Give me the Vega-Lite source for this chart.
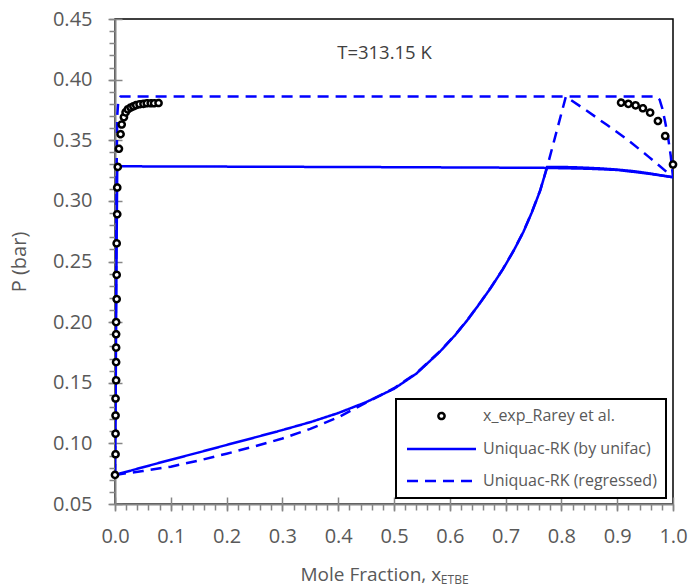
{
  "$schema": "https://vega.github.io/schema/vega-lite/v6.json",
  "width": 558,
  "height": 485,
  "autosize": {"type": "none"},
  "padding": {"left": 115, "top": 19, "right": 16, "bottom": 84},
  "background": "white",
  "config": {
    "view": {"stroke": "black", "strokeWidth": 1.5},
    "font": "Open Sans",
    "axis": {"grid": false, "domainColor": "#868686", "domainWidth": 2, "tickColor": "#868686", "tickWidth": 1.5, "labelColor": "#595959", "titleColor": "#595959", "labelFont": "Open Sans", "titleFont": "Open Sans", "titleFontWeight": "normal", "labelFlush": false, "labelOverlap": false}
  },
  "datasets": {
    "exp": [
      {"series": "x_exp_Rarey et al.", "x": 0.000, "P": 0.074},
      {"series": "x_exp_Rarey et al.", "x": 0.001, "P": 0.091},
      {"series": "x_exp_Rarey et al.", "x": 0.001, "P": 0.108},
      {"series": "x_exp_Rarey et al.", "x": 0.001, "P": 0.123},
      {"series": "x_exp_Rarey et al.", "x": 0.001, "P": 0.137},
      {"series": "x_exp_Rarey et al.", "x": 0.002, "P": 0.152},
      {"series": "x_exp_Rarey et al.", "x": 0.002, "P": 0.167},
      {"series": "x_exp_Rarey et al.", "x": 0.002, "P": 0.179},
      {"series": "x_exp_Rarey et al.", "x": 0.002, "P": 0.190},
      {"series": "x_exp_Rarey et al.", "x": 0.002, "P": 0.200},
      {"series": "x_exp_Rarey et al.", "x": 0.003, "P": 0.219},
      {"series": "x_exp_Rarey et al.", "x": 0.003, "P": 0.239},
      {"series": "x_exp_Rarey et al.", "x": 0.003, "P": 0.265},
      {"series": "x_exp_Rarey et al.", "x": 0.004, "P": 0.289},
      {"series": "x_exp_Rarey et al.", "x": 0.004, "P": 0.311},
      {"series": "x_exp_Rarey et al.", "x": 0.005, "P": 0.328},
      {"series": "x_exp_Rarey et al.", "x": 0.007, "P": 0.343},
      {"series": "x_exp_Rarey et al.", "x": 0.010, "P": 0.355},
      {"series": "x_exp_Rarey et al.", "x": 0.012, "P": 0.363},
      {"series": "x_exp_Rarey et al.", "x": 0.016, "P": 0.369},
      {"series": "x_exp_Rarey et al.", "x": 0.019, "P": 0.373},
      {"series": "x_exp_Rarey et al.", "x": 0.023, "P": 0.3755},
      {"series": "x_exp_Rarey et al.", "x": 0.028, "P": 0.377},
      {"series": "x_exp_Rarey et al.", "x": 0.033, "P": 0.378},
      {"series": "x_exp_Rarey et al.", "x": 0.038, "P": 0.379},
      {"series": "x_exp_Rarey et al.", "x": 0.044, "P": 0.3797},
      {"series": "x_exp_Rarey et al.", "x": 0.051, "P": 0.380},
      {"series": "x_exp_Rarey et al.", "x": 0.057, "P": 0.3805},
      {"series": "x_exp_Rarey et al.", "x": 0.064, "P": 0.3805},
      {"series": "x_exp_Rarey et al.", "x": 0.070, "P": 0.3805},
      {"series": "x_exp_Rarey et al.", "x": 0.078, "P": 0.3807},
      {"series": "x_exp_Rarey et al.", "x": 0.907, "P": 0.381},
      {"series": "x_exp_Rarey et al.", "x": 0.920, "P": 0.380},
      {"series": "x_exp_Rarey et al.", "x": 0.933, "P": 0.3788},
      {"series": "x_exp_Rarey et al.", "x": 0.946, "P": 0.3764},
      {"series": "x_exp_Rarey et al.", "x": 0.959, "P": 0.3728},
      {"series": "x_exp_Rarey et al.", "x": 0.973, "P": 0.3659},
      {"series": "x_exp_Rarey et al.", "x": 0.986, "P": 0.3535},
      {"series": "x_exp_Rarey et al.", "x": 1.000, "P": 0.330}
    ],
    "solid": [
      {"series": "Uniquac-RK (by unifac)", "part": "A", "ord": 1, "x": 0, "P": 0.074},
      {"series": "Uniquac-RK (by unifac)", "part": "A", "ord": 2, "x": 0.05, "P": 0.0803},
      {"series": "Uniquac-RK (by unifac)", "part": "A", "ord": 3, "x": 0.1, "P": 0.0865},
      {"series": "Uniquac-RK (by unifac)", "part": "A", "ord": 4, "x": 0.15, "P": 0.0925},
      {"series": "Uniquac-RK (by unifac)", "part": "A", "ord": 5, "x": 0.2, "P": 0.0987},
      {"series": "Uniquac-RK (by unifac)", "part": "A", "ord": 6, "x": 0.25, "P": 0.1048},
      {"series": "Uniquac-RK (by unifac)", "part": "A", "ord": 7, "x": 0.3, "P": 0.111},
      {"series": "Uniquac-RK (by unifac)", "part": "A", "ord": 8, "x": 0.35, "P": 0.1175},
      {"series": "Uniquac-RK (by unifac)", "part": "A", "ord": 9, "x": 0.4, "P": 0.125},
      {"series": "Uniquac-RK (by unifac)", "part": "A", "ord": 10, "x": 0.45, "P": 0.134},
      {"series": "Uniquac-RK (by unifac)", "part": "A", "ord": 11, "x": 0.5, "P": 0.145},
      {"series": "Uniquac-RK (by unifac)", "part": "A", "ord": 12, "x": 0.54, "P": 0.1575},
      {"series": "Uniquac-RK (by unifac)", "part": "A", "ord": 13, "x": 0.582, "P": 0.1755},
      {"series": "Uniquac-RK (by unifac)", "part": "A", "ord": 14, "x": 0.61, "P": 0.1895},
      {"series": "Uniquac-RK (by unifac)", "part": "A", "ord": 15, "x": 0.633, "P": 0.2025},
      {"series": "Uniquac-RK (by unifac)", "part": "A", "ord": 16, "x": 0.655, "P": 0.2163},
      {"series": "Uniquac-RK (by unifac)", "part": "A", "ord": 17, "x": 0.673, "P": 0.228},
      {"series": "Uniquac-RK (by unifac)", "part": "A", "ord": 18, "x": 0.695, "P": 0.2435},
      {"series": "Uniquac-RK (by unifac)", "part": "A", "ord": 19, "x": 0.714, "P": 0.2585},
      {"series": "Uniquac-RK (by unifac)", "part": "A", "ord": 20, "x": 0.732, "P": 0.2745},
      {"series": "Uniquac-RK (by unifac)", "part": "A", "ord": 21, "x": 0.747, "P": 0.2905},
      {"series": "Uniquac-RK (by unifac)", "part": "A", "ord": 22, "x": 0.762, "P": 0.3085},
      {"series": "Uniquac-RK (by unifac)", "part": "A", "ord": 23, "x": 0.7745, "P": 0.328},
      {"series": "Uniquac-RK (by unifac)", "part": "A", "ord": 24, "x": 0.82, "P": 0.3278},
      {"series": "Uniquac-RK (by unifac)", "part": "A", "ord": 25, "x": 0.87, "P": 0.3268},
      {"series": "Uniquac-RK (by unifac)", "part": "A", "ord": 26, "x": 0.9, "P": 0.3258},
      {"series": "Uniquac-RK (by unifac)", "part": "A", "ord": 27, "x": 0.93, "P": 0.3245},
      {"series": "Uniquac-RK (by unifac)", "part": "A", "ord": 28, "x": 0.96, "P": 0.3225},
      {"series": "Uniquac-RK (by unifac)", "part": "A", "ord": 29, "x": 1.0, "P": 0.3195},
      {"series": "Uniquac-RK (by unifac)", "part": "B", "ord": 1, "x": 0, "P": 0.074},
      {"series": "Uniquac-RK (by unifac)", "part": "B", "ord": 2, "x": 0.001, "P": 0.12},
      {"series": "Uniquac-RK (by unifac)", "part": "B", "ord": 3, "x": 0.002, "P": 0.2},
      {"series": "Uniquac-RK (by unifac)", "part": "B", "ord": 4, "x": 0.003, "P": 0.27},
      {"series": "Uniquac-RK (by unifac)", "part": "B", "ord": 5, "x": 0.004, "P": 0.3285},
      {"series": "Uniquac-RK (by unifac)", "part": "B", "ord": 6, "x": 0.1, "P": 0.3284},
      {"series": "Uniquac-RK (by unifac)", "part": "B", "ord": 7, "x": 0.3, "P": 0.3281},
      {"series": "Uniquac-RK (by unifac)", "part": "B", "ord": 8, "x": 0.5, "P": 0.3278},
      {"series": "Uniquac-RK (by unifac)", "part": "B", "ord": 9, "x": 0.7, "P": 0.3274},
      {"series": "Uniquac-RK (by unifac)", "part": "B", "ord": 10, "x": 0.7745, "P": 0.3272},
      {"series": "Uniquac-RK (by unifac)", "part": "B", "ord": 11, "x": 0.85, "P": 0.3265},
      {"series": "Uniquac-RK (by unifac)", "part": "B", "ord": 12, "x": 0.9, "P": 0.3255},
      {"series": "Uniquac-RK (by unifac)", "part": "B", "ord": 13, "x": 0.95, "P": 0.3228},
      {"series": "Uniquac-RK (by unifac)", "part": "B", "ord": 14, "x": 1.0, "P": 0.3195}
    ],
    "dashed": [
      {"series": "Uniquac-RK (regressed)", "part": "A", "ord": 1, "x": 0, "P": 0.074},
      {"series": "Uniquac-RK (regressed)", "part": "A", "ord": 2, "x": 0.05, "P": 0.0772},
      {"series": "Uniquac-RK (regressed)", "part": "A", "ord": 3, "x": 0.1, "P": 0.0808},
      {"series": "Uniquac-RK (regressed)", "part": "A", "ord": 4, "x": 0.15, "P": 0.0858},
      {"series": "Uniquac-RK (regressed)", "part": "A", "ord": 5, "x": 0.2, "P": 0.0915},
      {"series": "Uniquac-RK (regressed)", "part": "A", "ord": 6, "x": 0.25, "P": 0.0975},
      {"series": "Uniquac-RK (regressed)", "part": "A", "ord": 7, "x": 0.3, "P": 0.104},
      {"series": "Uniquac-RK (regressed)", "part": "A", "ord": 8, "x": 0.35, "P": 0.112},
      {"series": "Uniquac-RK (regressed)", "part": "A", "ord": 9, "x": 0.4, "P": 0.1215},
      {"series": "Uniquac-RK (regressed)", "part": "A", "ord": 10, "x": 0.45, "P": 0.1335},
      {"series": "Uniquac-RK (regressed)", "part": "A", "ord": 11, "x": 0.5, "P": 0.1455},
      {"series": "Uniquac-RK (regressed)", "part": "A", "ord": 12, "x": 0.54, "P": 0.1578},
      {"series": "Uniquac-RK (regressed)", "part": "A", "ord": 13, "x": 0.582, "P": 0.1758},
      {"series": "Uniquac-RK (regressed)", "part": "A", "ord": 14, "x": 0.61, "P": 0.1897},
      {"series": "Uniquac-RK (regressed)", "part": "A", "ord": 15, "x": 0.633, "P": 0.2027},
      {"series": "Uniquac-RK (regressed)", "part": "A", "ord": 16, "x": 0.655, "P": 0.2165},
      {"series": "Uniquac-RK (regressed)", "part": "A", "ord": 17, "x": 0.673, "P": 0.2282},
      {"series": "Uniquac-RK (regressed)", "part": "A", "ord": 18, "x": 0.695, "P": 0.2437},
      {"series": "Uniquac-RK (regressed)", "part": "A", "ord": 19, "x": 0.714, "P": 0.2587},
      {"series": "Uniquac-RK (regressed)", "part": "A", "ord": 20, "x": 0.732, "P": 0.2747},
      {"series": "Uniquac-RK (regressed)", "part": "A", "ord": 21, "x": 0.747, "P": 0.2907},
      {"series": "Uniquac-RK (regressed)", "part": "A", "ord": 22, "x": 0.762, "P": 0.3087},
      {"series": "Uniquac-RK (regressed)", "part": "A", "ord": 23, "x": 0.7745, "P": 0.328},
      {"series": "Uniquac-RK (regressed)", "part": "A", "ord": 24, "x": 0.808, "P": 0.386},
      {"series": "Uniquac-RK (regressed)", "part": "A", "ord": 25, "x": 0.845, "P": 0.3745},
      {"series": "Uniquac-RK (regressed)", "part": "A", "ord": 26, "x": 0.882, "P": 0.3625},
      {"series": "Uniquac-RK (regressed)", "part": "A", "ord": 27, "x": 0.92, "P": 0.35},
      {"series": "Uniquac-RK (regressed)", "part": "A", "ord": 28, "x": 0.956, "P": 0.3365},
      {"series": "Uniquac-RK (regressed)", "part": "A", "ord": 29, "x": 1.0, "P": 0.3195},
      {"series": "Uniquac-RK (regressed)", "part": "B", "ord": 1, "x": 0, "P": 0.074},
      {"series": "Uniquac-RK (regressed)", "part": "B", "ord": 2, "x": 0.001, "P": 0.15},
      {"series": "Uniquac-RK (regressed)", "part": "B", "ord": 3, "x": 0.002, "P": 0.25},
      {"series": "Uniquac-RK (regressed)", "part": "B", "ord": 4, "x": 0.003, "P": 0.33},
      {"series": "Uniquac-RK (regressed)", "part": "B", "ord": 5, "x": 0.004, "P": 0.37},
      {"series": "Uniquac-RK (regressed)", "part": "B", "ord": 6, "x": 0.006, "P": 0.383},
      {"series": "Uniquac-RK (regressed)", "part": "B", "ord": 7, "x": 0.01, "P": 0.386},
      {"series": "Uniquac-RK (regressed)", "part": "B", "ord": 8, "x": 0.5, "P": 0.386},
      {"series": "Uniquac-RK (regressed)", "part": "B", "ord": 9, "x": 0.97, "P": 0.386},
      {"series": "Uniquac-RK (regressed)", "part": "B", "ord": 10, "x": 0.976, "P": 0.3835},
      {"series": "Uniquac-RK (regressed)", "part": "B", "ord": 11, "x": 0.981, "P": 0.376},
      {"series": "Uniquac-RK (regressed)", "part": "B", "ord": 12, "x": 0.986, "P": 0.365},
      {"series": "Uniquac-RK (regressed)", "part": "B", "ord": 13, "x": 0.991, "P": 0.353},
      {"series": "Uniquac-RK (regressed)", "part": "B", "ord": 14, "x": 0.996, "P": 0.337},
      {"series": "Uniquac-RK (regressed)", "part": "B", "ord": 15, "x": 1.0, "P": 0.3195}
    ]
  },
  "resolve": {"axis": {"x": "independent", "y": "independent"}},
  "layer": [
    {
      "data": {"name": "solid"},
      "mark": {"type": "line", "strokeWidth": 2.5, "clip": true},
      "encoding": {
        "x": {"field": "x", "type": "quantitative", "scale": {"domain": [0, 1], "nice": false, "zero": false},
          "axis": {"orient": "bottom", "values": [0,0.02,0.04,0.06,0.08,0.1,0.12,0.14,0.16,0.18,0.2,0.22,0.24,0.26,0.28,0.3,0.32,0.34,0.36,0.38,0.4,0.42,0.44,0.46,0.48,0.5,0.52,0.54,0.56,0.58,0.6,0.62,0.64,0.66,0.68,0.7,0.72,0.74,0.76,0.78,0.8,0.82,0.84,0.86,0.88,0.9,0.92,0.94,0.96,0.98,1], "labels": false, "title": null, "tickSize": 6, "domain": true}},
        "y": {"field": "P", "type": "quantitative", "scale": {"domain": [0.05, 0.45], "nice": false, "zero": false},
          "axis": {"orient": "left", "values": [0.05,0.06,0.07,0.08,0.09,0.1,0.11,0.12,0.13,0.14,0.15,0.16,0.17,0.18,0.19,0.2,0.21,0.22,0.23,0.24,0.25,0.26,0.27,0.28,0.29,0.3,0.31,0.32,0.33,0.34,0.35,0.36,0.37,0.38,0.39,0.4,0.41,0.42,0.43,0.44,0.45], "labels": false, "title": null, "tickSize": 6, "domain": true}},
        "detail": {"field": "part", "type": "nominal"},
        "order": {"field": "ord", "type": "quantitative"},
        "color": {"field": "series", "type": "nominal",
          "scale": {"domain": ["x_exp_Rarey et al.", "Uniquac-RK (by unifac)", "Uniquac-RK (regressed)"], "range": ["black", "#0000ff", "#0000ff"]},
          "legend": {"title": null, "orient": "none", "legendX": 281, "legendY": 380, "fillColor": "white", "strokeColor": "black", "padding": 9, "rowPadding": 16, "labelFontSize": 16, "labelFont": "Open Sans", "labelColor": "#595959", "labelOffset": 6, "labelLimit": 300, "symbolStrokeWidth": 2.5, "symbolSize": 100,
            "encode": {
              "legend": {"update": {"strokeWidth": {"value": 2}}},
              "symbols": {"update": {
                "shape": {"signal": "datum.value === 'x_exp_Rarey et al.' ? 'circle' : 'stroke'"},
                "size": {"signal": "datum.value === 'x_exp_Rarey et al.' ? 38 : 4761"},
                "x": {"value": 36.5},
                "y": {"value": 8},
                "fill": {"value": "transparent"}
              }},
              "labels": {"update": {"y": {"value": 8}}}
            }}},
        "strokeDash": {"field": "series", "type": "nominal",
          "scale": {"domain": ["x_exp_Rarey et al.", "Uniquac-RK (by unifac)", "Uniquac-RK (regressed)"], "range": [[1, 0], [1, 0], [11, 7]]}}
      }
    },
    {
      "data": {"name": "dashed"},
      "mark": {"type": "line", "strokeWidth": 2.5, "clip": true},
      "encoding": {
        "x": {"field": "x", "type": "quantitative",
          "axis": {"orient": "bottom", "values": [0,0.1,0.2,0.3,0.4,0.5,0.6,0.7,0.8,0.9,1], "labels": false, "title": null, "tickSize": -7, "domain": false}},
        "y": {"field": "P", "type": "quantitative",
          "axis": {"orient": "left", "values": [0.05,0.1,0.15,0.2,0.25,0.3,0.35,0.4,0.45], "labels": false, "title": null, "tickSize": -7, "domain": false}},
        "detail": {"field": "part", "type": "nominal"},
        "order": {"field": "ord", "type": "quantitative"},
        "color": {"field": "series", "type": "nominal"},
        "strokeDash": {"field": "series", "type": "nominal"}
      }
    },
    {
      "data": {"name": "exp"},
      "mark": {"type": "point", "shape": "circle", "size": 38, "filled": false, "fill": "white", "strokeWidth": 2.5, "opacity": 1},
      "encoding": {
        "x": {"field": "x", "type": "quantitative",
          "axis": {"orient": "bottom", "values": [0,0.1,0.2,0.3,0.4,0.5,0.6,0.7,0.8,0.9,1], "format": ".1f", "tickSize": 7, "labelPadding": 15, "labelFontSize": 20, "domain": false,
            "title": "Mole Fraction, x", "titleFontSize": 19, "titleAlign": "left", "titleAnchor": "start", "titleX": 185, "titleY": 76, "titleBaseline": "alphabetic"}},
        "y": {"field": "P", "type": "quantitative",
          "axis": {"orient": "left", "values": [0.05,0.1,0.15,0.2,0.25,0.3,0.35,0.4,0.45], "format": ".2f", "tickSize": 7, "labelPadding": 16, "labelFontSize": 20, "domain": false,
            "title": "P (bar)", "titleFontSize": 20, "titleAngle": 270, "titleX": -96, "titleY": 242.5, "titleAlign": "center", "titleBaseline": "middle"}},
        "color": {"field": "series", "type": "nominal"},
        "strokeDash": {"field": "series", "type": "nominal"}
      }
    },
    {
      "data": {"values": [{}]},
      "mark": {"type": "text", "fontSize": 18.5, "font": "Open Sans", "color": "#404040", "align": "center", "baseline": "middle"},
      "encoding": {
        "x": {"datum": 0.483, "type": "quantitative", "axis": null},
        "y": {"datum": 0.422, "type": "quantitative", "axis": null},
        "text": {"value": "T=313.15 K"}
      }
    },
    {
      "data": {"values": [{}]},
      "mark": {"type": "text", "fontSize": 12, "font": "Open Sans", "color": "#595959", "align": "left", "baseline": "alphabetic", "dy": 80, "clip": false},
      "encoding": {
        "x": {"datum": 0.584, "type": "quantitative", "axis": null},
        "y": {"datum": 0.05, "type": "quantitative", "axis": null},
        "text": {"value": "ETBE"}
      }
    }
  ]
}
